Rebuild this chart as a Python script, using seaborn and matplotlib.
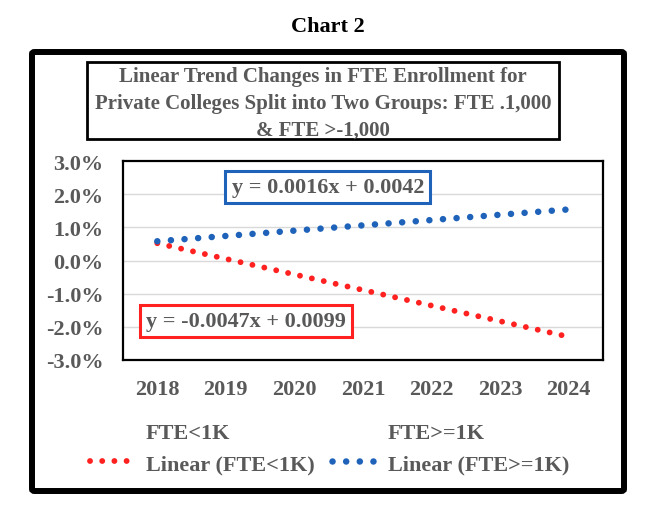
import matplotlib as mpl
mpl.use('Agg')
import matplotlib.pyplot as plt
import matplotlib.ticker as ticker
from matplotlib.lines import Line2D
from matplotlib.patches import Rectangle, FancyBboxPatch
import pandas as pd
import seaborn as sns

# trendline values (fraction, not %)
years = [2018, 2019, 2020, 2021, 2022, 2023, 2024]
trend_small = [0.0052, 0.0005, -0.0042, -0.0089, -0.0136, -0.0183, -0.0230]   # FTE<1K
trend_large = [0.0058, 0.0074, 0.0090, 0.0106, 0.0122, 0.0138, 0.0154]        # FTE>=1K
eq_small = 'y = -0.0047x + 0.0099'
eq_large = 'y = 0.0016x + 0.0042'
series_names = ['FTE<1K', 'FTE>=1K']
y_ticks = [-0.03, -0.02, -0.01, 0.0, 0.01, 0.02, 0.03]

sns.set_theme(style='white')
plt.rcParams['font.family'] = ['Liberation Serif', 'DejaVu Serif']
plt.rcParams['font.weight'] = 'bold'
plt.rcParams['axes.unicode_minus'] = False

W, H = 655, 510
gray = '#595959'
red = '#FF2020'
blue = '#1F62B9'

def fx(px):
    return px / W

def fy(py):
    return 1 - py / H

fig = plt.figure(figsize=(W / 100, H / 100), dpi=100)
fig.patch.set_facecolor('white')

# outer frame
frame = FancyBboxPatch((fx(32), fy(492)), fx(592), (492 - 53) / H,
                       boxstyle='round,pad=0,rounding_size=0.004',
                       transform=fig.transFigure, fill=False, ec='black', lw=4.3)
fig.add_artist(frame)

fig.text(0.5, fy(27), 'Chart 2', ha='center', va='center', fontsize=16,
         fontweight='bold', color='black')

# title box
fig.add_artist(Rectangle((fx(87), fy(140)), fx(559 - 87), (140 - 63) / H,
                         transform=fig.transFigure, fill=False, ec='black', lw=2))
fig.text(fx(323), fy(104),
         'Linear Trend Changes in FTE Enrollment for\n'
         'Private Colleges Split into Two Groups: FTE .1,000\n'
         '& FTE >-1,000',
         ha='center', va='center', fontsize=15, fontweight='bold', color=gray,
         linespacing=1.45)

ax = fig.add_axes([fx(123), fy(361), fx(603 - 123), (361 - 162) / H])

df = pd.DataFrame({'year': years * 2,
                   'value': trend_small + trend_large,
                   'group': [series_names[0]] * 7 + [series_names[1]] * 7})

red_style = dict(lw=4.2, linestyle=(0, (0.01, 2.08)), dash_capstyle='round')
blue_style = dict(lw=4.7, linestyle=(0, (0.01, 2.08)), dash_capstyle='round')
sns.lineplot(data=df[df.group == series_names[0]], x='year', y='value', ax=ax,
             color=red, **red_style)
sns.lineplot(data=df[df.group == series_names[1]], x='year', y='value', ax=ax,
             color=blue, **blue_style)

ax.set_xlim(2017.5, 2024.5)
ax.set_ylim(-0.03, 0.03)
ax.set_xticks(years)
ax.set_yticks(y_ticks)
ax.yaxis.set_major_formatter(ticker.FuncFormatter(lambda v, p: f'{v * 100:.1f}%'))
ax.set_xlabel('')
ax.set_ylabel('')
for t in y_ticks[1:-1]:
    ax.axhline(t, color='#D9D9D9', lw=1, zorder=0)
ax.tick_params(axis='both', length=0, labelsize=16, labelcolor=gray)
ax.tick_params(axis='y', pad=14)
ax.tick_params(axis='x', pad=14)
for s in ax.spines.values():
    s.set_color('black')
    s.set_linewidth(1.6)

# equation labels
ax.text(0.427, 0.868, eq_large, transform=ax.transAxes, ha='center', va='center',
        fontsize=16, fontweight='bold', color=gray,
        bbox=dict(boxstyle='square,pad=0.28', fc='white', ec=blue, lw=2.2))
ax.text(0.256, 0.195, eq_small, transform=ax.transAxes, ha='center', va='center',
        fontsize=16, fontweight='bold', color=gray,
        bbox=dict(boxstyle='square,pad=0.28', fc='white', ec=red, lw=2.2))

handles = [Line2D([], [], color='none'),
           Line2D([], [], color=red, **red_style),
           Line2D([], [], color='none'),
           Line2D([], [], color=blue, **blue_style)]
labels = [series_names[0], 'Linear (' + series_names[0] + ')',
          series_names[1], 'Linear (' + series_names[1] + ')']
fig.legend(handles, labels, ncol=2, loc='upper left',
           bbox_to_anchor=(fx(70), fy(403)), frameon=False,
           prop={'size': 16, 'weight': 'bold'}, labelcolor=gray,
           handlelength=2.0, handletextpad=0.5, columnspacing=0.8,
           labelspacing=0.5)

plt.savefig('out.png', dpi=100)
